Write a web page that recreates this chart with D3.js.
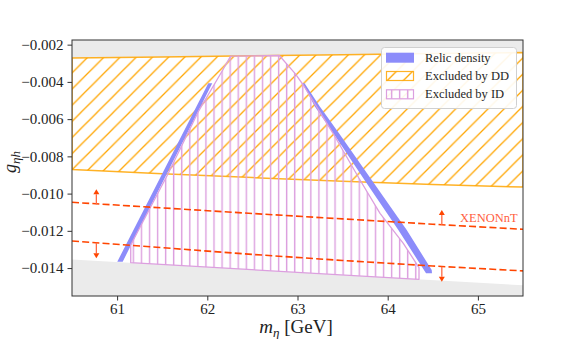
<!DOCTYPE html>
<html><head><meta charset="utf-8">
<script src="https://cdn.jsdelivr.net/npm/d3@7"></script>
<style>
body{margin:0;background:#fff;}
svg{display:block;}
text{font-family:"Liberation Serif","DejaVu Serif",serif;}
</style></head><body>
<svg id="chart" width="581" height="339"></svg>
<script>
// ---------------- data ----------------
const xTicks = [61, 62, 63, 64, 65];
const xTickLabels = ["61", "62", "63", "64", "65"];
const yTicks = [-0.014, -0.012, -0.010, -0.008, -0.006, -0.004, -0.002];
const yTickLabels = ["\u22120.014", "\u22120.012", "\u22120.010", "\u22120.008", "\u22120.006", "\u22120.004", "\u22120.002"];

// Direct detection excluded band
const ddMass  = [60.5, 61.5, 62.5, 63.5, 64.5, 65.5];
const ddUpper = [-0.00272, -0.00266, -0.00260, -0.00254, -0.00248, -0.00242];
const ddLower = [-0.00870, -0.00893, -0.00914, -0.00934, -0.00951, -0.00965];

// lower grey (disallowed) region boundary
const grayMass  = [60.5, 65.5];
const grayLower = [-0.01354, -0.014925];

// XENONnT projections
const xenonMass  = [60.5, 61.5, 62.5, 63.5, 64.5, 65.5];
const xenonUpper = [-0.010467, -0.010768, -0.011069, -0.011359, -0.011644, -0.011918];
const xenonLower = [-0.012546, -0.012906, -0.013266, -0.013593, -0.013889, -0.014152];

// XENONnT arrows
const arrowMass = [60.77, 60.77, 64.6, 64.6];
const arrowFrom = [-0.010575, -0.012637, -0.011687, -0.013926];
const arrowTo   = [-0.009769, -0.013475, -0.010881, -0.014732];

// Relic density branches (coupling, mass low, mass high)
const relicLeftG  = [-0.013658, -0.008867, -0.004076];
const relicLeftLo = [61.002, 61.507, 62.011];
const relicLeftHi = [61.062, 61.559, 62.055];
const relicRightG  = [-0.004076, -0.005333, -0.006761, -0.009447, -0.011955, -0.014104, -0.014281];
const relicRightLo = [63.055, 63.194, 63.397, 63.767, 64.118, 64.402, 64.425];
const relicRightHi = [63.078, 63.249, 63.460, 63.848, 64.211, 64.488, 64.491];

// Indirect detection excluded region (polygon)
const idMass = [61.151, 61.151, 61.568, 61.900, 62.160, 62.259, 62.798, 62.972, 63.064, 63.394, 63.693, 63.915, 64.173, 64.347, 64.347];
const idG    = [-0.013712, -0.012761, -0.00891, -0.005601, -0.003453, -0.002614, -0.002582, -0.003539, -0.004167, -0.006761, -0.00927, -0.011058, -0.01267, -0.01398, -0.014603];

const legendLabels = ["Relic density", "Excluded by DD", "Excluded by ID"];

// ---------------- style ----------------
const ddColor = "#ffa500";
const idColor = "#dc9fdf";
const relicColor = "#8c8cfa";
const xenonColor = "#ff4500";
const arrowColor = "#ff6a45";
const grayColor = "#ebebeb";

const plot = {left: 72, right: 523, top: 40, bottom: 296};
const x = d3.scaleLinear().domain([60.5, 65.5]).range([plot.left, plot.right]);
const y = d3.scaleLinear().domain([-0.0155, -0.00175]).range([plot.bottom, plot.top]);

const svg = d3.select("#chart");
const defs = svg.append("defs");
defs.append("clipPath").attr("id", "clip").append("rect")
  .attr("x", plot.left).attr("y", plot.top)
  .attr("width", plot.right - plot.left).attr("height", plot.bottom - plot.top);

const ddp = defs.append("pattern").attr("id", "ddHatch").attr("patternUnits", "userSpaceOnUse")
  .attr("x", -0.3).attr("y", 0).attr("width", 16.14).attr("height", 16.14);
ddp.append("path").attr("d", "M-2,2L2,-2M0,16.14L16.14,0M14.14,18.14L18.14,14.14")
  .attr("stroke", ddColor).attr("stroke-width", 1.3).attr("fill", "none");

const idp = defs.append("pattern").attr("id", "idHatch").attr("patternUnits", "userSpaceOnUse")
  .attr("x", 0).attr("y", 0).attr("width", 8.07).attr("height", 8);
idp.append("path").attr("d", "M4.2,-1V9").attr("stroke", idColor).attr("stroke-width", 1.4).attr("fill", "none");

const g = svg.append("g").attr("clip-path", "url(#clip)");

// grey regions
const topGray = d3.area().x(d => x(d[0])).y0(d => y(d[1])).y1(() => y(-0.00175));
g.append("path").attr("d", topGray(ddMass.map((m, i) => [m, ddUpper[i]]))).attr("fill", grayColor);
const botGray = d3.area().x(d => x(d[0])).y0(() => y(-0.0155)).y1(d => y(d[1]));
g.append("path").attr("d", botGray(grayMass.map((m, i) => [m, grayLower[i]]))).attr("fill", grayColor);

// DD region
const ddArea = d3.area().x(d => x(d[0])).y0(d => y(d[1])).y1(d => y(d[2]));
const ddData = ddMass.map((m, i) => [m, ddLower[i], ddUpper[i]]);
g.append("path").attr("d", ddArea(ddData)).attr("fill", "url(#ddHatch)");
g.append("path").attr("d", ddArea(ddData)).attr("fill", "none")
  .attr("stroke", ddColor).attr("stroke-width", 1.5).attr("stroke-opacity", 0.85);

// relic density
const relicArea = d3.area().y(d => y(d[0])).x0(d => x(d[1])).x1(d => x(d[2]));
g.append("path").attr("d", relicArea(relicLeftG.map((v, i) => [v, relicLeftLo[i], relicLeftHi[i]])))
  .attr("fill", relicColor);
g.append("path").attr("d", relicArea(relicRightG.map((v, i) => [v, relicRightLo[i], relicRightHi[i]])))
  .attr("fill", relicColor);

// ID region
const idLine = d3.line().x(d => x(d[0])).y(d => y(d[1]));
const idPts = idMass.map((m, i) => [m, idG[i]]);
g.append("path").attr("d", idLine(idPts) + "Z").attr("fill", "url(#idHatch)")
  .attr("stroke", idColor).attr("stroke-width", 1.3).attr("stroke-linejoin", "round");

// XENONnT lines
const xl = d3.line().x(d => x(d[0])).y(d => y(d[1]));
[xenonUpper, xenonLower].forEach(arr => {
  g.append("path").attr("d", xl(xenonMass.map((m, i) => [m, arr[i]])))
    .attr("fill", "none").attr("stroke", xenonColor).attr("stroke-width", 1.6)
    .attr("stroke-dasharray", "7,3.2");
});

// arrows
arrowMass.forEach((m, i) => {
  const ax = x(m), y0 = y(arrowFrom[i]), y1 = y(arrowTo[i]);
  const dir = Math.sign(y1 - y0);
  const hl = 5, hw = 3;
  g.append("line").attr("x1", ax).attr("x2", ax).attr("y1", y0).attr("y2", y1 - dir * hl)
    .attr("stroke", arrowColor).attr("stroke-width", 1.3);
  g.append("path").attr("d", `M${ax - hw},${y1 - dir * hl}L${ax + hw},${y1 - dir * hl}L${ax},${y1}Z`)
    .attr("fill", xenonColor);
});

svg.append("text").attr("x", 460).attr("y", 222).attr("font-size", 12.5)
  .attr("fill", "#ff6040").text("XENONnT");

// legend
const lg = svg.append("g");
lg.append("rect").attr("x", 381.5).attr("y", 47.5).attr("width", 135).attr("height", 61)
  .attr("rx", 3).attr("fill", "#fff").attr("fill-opacity", 0.9).attr("stroke", "#d0d0d0").attr("stroke-width", 1);
const lyc = [57.7, 76, 94.3];
lg.append("rect").attr("x", 386).attr("y", lyc[0] - 5).attr("width", 28).attr("height", 10).attr("fill", relicColor);
lg.append("rect").attr("x", 386.5).attr("y", lyc[1] - 4.5).attr("width", 27).attr("height", 9)
  .attr("fill", "url(#ddHatch)").attr("stroke", ddColor).attr("stroke-width", 1.2).attr("stroke-opacity", 0.85);
lg.append("rect").attr("x", 386.5).attr("y", lyc[2] - 4.5).attr("width", 27).attr("height", 9)
  .attr("fill", "url(#idHatch)").attr("stroke", idColor).attr("stroke-width", 1.2);
legendLabels.forEach((t, i) => {
  lg.append("text").attr("x", 425).attr("y", lyc[i] + 3.8).attr("font-size", 12.5).attr("fill", "#262626").text(t);
});

// frame
svg.append("rect").attr("x", plot.left).attr("y", plot.top)
  .attr("width", plot.right - plot.left).attr("height", plot.bottom - plot.top)
  .attr("fill", "none").attr("stroke", "#333").attr("stroke-width", 1);

// axes
const xAxis = d3.axisBottom(x).tickValues(xTicks).tickSize(4.5).tickPadding(3)
  .tickFormat((d, i) => xTickLabels[i]);
const gx = svg.append("g").attr("transform", `translate(0,${plot.bottom})`).call(xAxis);
gx.select(".domain").remove();
gx.selectAll("line").attr("stroke", "#333");
gx.selectAll("text").attr("font-size", 15).attr("fill", "#222");

const yAxis = d3.axisLeft(y).tickValues(yTicks).tickSize(4.5).tickPadding(4)
  .tickFormat((d, i) => yTickLabels[i]);
const gy = svg.append("g").attr("transform", `translate(${plot.left},0)`).call(yAxis);
gy.select(".domain").remove();
gy.selectAll("line").attr("stroke", "#333");
gy.selectAll("text").attr("font-size", 15).attr("fill", "#222");

// axis labels
const xlab = svg.append("text").attr("x", 296).attr("y", 333).attr("text-anchor", "middle")
  .attr("font-size", 19).attr("fill", "#222");
xlab.append("tspan").attr("font-style", "italic").text("m");
xlab.append("tspan").attr("font-style", "italic").attr("font-size", 13).attr("dy", 4).text("\u03B7");
xlab.append("tspan").attr("dy", -4).text(" [GeV]");

const ylab = svg.append("text").attr("transform", "translate(16,162) rotate(-90)")
  .attr("text-anchor", "middle").attr("font-size", 18).attr("fill", "#222");
ylab.append("tspan").attr("font-style", "italic").text("g");
ylab.append("tspan").attr("font-style", "italic").attr("font-size", 13).attr("dy", 3.5).text("\u03B7h");
</script></body></html>
